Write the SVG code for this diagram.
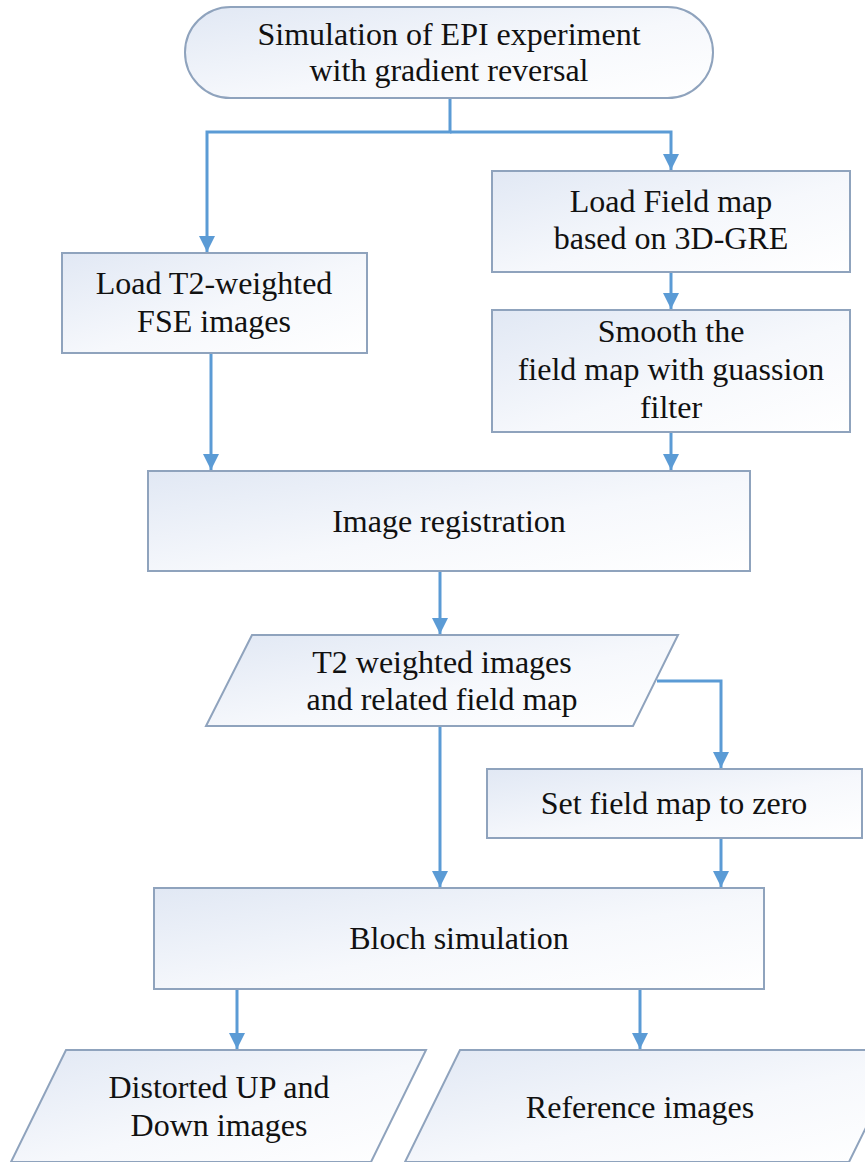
<svg xmlns="http://www.w3.org/2000/svg" width="865" height="1162" viewBox="0 0 865 1162">
<style>
.n{fill:url(#g);stroke:#8fa3bd;stroke-width:2}
.t{font-family:"Liberation Serif","Times New Roman",serif;font-size:32px;fill:#111;text-anchor:middle}
.c{fill:none;stroke:#5b9bd5;stroke-width:3}
</style>
<defs>
<linearGradient id="g" x1="0" y1="0" x2="1" y2="1">
<stop offset="0" stop-color="#e1e8f4"/>
<stop offset="0.55" stop-color="#f6f8fc"/>
<stop offset="1" stop-color="#ffffff"/>
</linearGradient>
<marker id="a" markerUnits="userSpaceOnUse" markerWidth="16" markerHeight="16" refX="16" refY="8" orient="auto">
<path d="M0,0 L16,8 L0,16 z" fill="#5b9bd5"/>
</marker>
</defs>
<rect width="865" height="1162" fill="#ffffff"/>
<g id="connectors">
<path class="c" d="M450,98 V132 H207 V252" marker-end="url(#a)"/>
<path class="c" d="M450,132 H671 V170" marker-end="url(#a)"/>
<path class="c" d="M671,272 V309" marker-end="url(#a)"/>
<path class="c" d="M211,353 V470" marker-end="url(#a)"/>
<path class="c" d="M671,432 V470" marker-end="url(#a)"/>
<path class="c" d="M440,571 V634" marker-end="url(#a)"/>
<path class="c" d="M657,681 H721 V768" marker-end="url(#a)"/>
<path class="c" d="M440,726 V887" marker-end="url(#a)"/>
<path class="c" d="M721,838 V887" marker-end="url(#a)"/>
<path class="c" d="M237,989 V1049" marker-end="url(#a)"/>
<path class="c" d="M640,989 V1049" marker-end="url(#a)"/>
</g>
<g id="start">
<rect class="n" x="185" y="7" width="528" height="91" rx="45.5" ry="45.5"/>
<text class="t" x="449" y="45">Simulation of EPI experiment</text>
<text class="t" x="449" y="81">with gradient reversal</text>
</g>
<g id="loadT2">
<rect class="n" x="62" y="253" width="305" height="100"/>
<text class="t" x="214" y="294">Load T2-weighted</text>
<text class="t" x="214" y="332">FSE images</text>
</g>
<g id="loadField">
<rect class="n" x="492" y="171" width="358" height="101"/>
<text class="t" x="671" y="212">Load Field map</text>
<text class="t" x="671" y="249">based on 3D-GRE</text>
</g>
<g id="smooth">
<rect class="n" x="492" y="310" width="358" height="122"/>
<text class="t" x="671" y="342">Smooth the</text>
<text class="t" x="671" y="380">field map with guassion</text>
<text class="t" x="671" y="418">filter</text>
</g>
<g id="registration">
<rect class="n" x="148" y="471" width="602" height="100"/>
<text class="t" x="449" y="532">Image registration</text>
</g>
<g id="t2data">
<polygon class="n" points="252,635 678,635 633,726 206,726"/>
<text class="t" x="442" y="673">T2 weighted images</text>
<text class="t" x="442" y="710">and related field map</text>
</g>
<g id="zero">
<rect class="n" x="487" y="769" width="375" height="69"/>
<text class="t" x="674" y="814">Set field map to zero</text>
</g>
<g id="bloch">
<rect class="n" x="154" y="888" width="610" height="101"/>
<text class="t" x="459" y="949">Bloch simulation</text>
</g>
<g id="distorted">
<polygon class="n" points="66,1050 426,1050 371,1162 11,1162"/>
<text class="t" x="219" y="1098">Distorted UP and</text>
<text class="t" x="219" y="1136">Down images</text>
</g>
<g id="reference">
<polygon class="n" points="460,1050 904,1050 849,1162 405,1162"/>
<text class="t" x="640" y="1118">Reference images</text>
</g>
</svg>
